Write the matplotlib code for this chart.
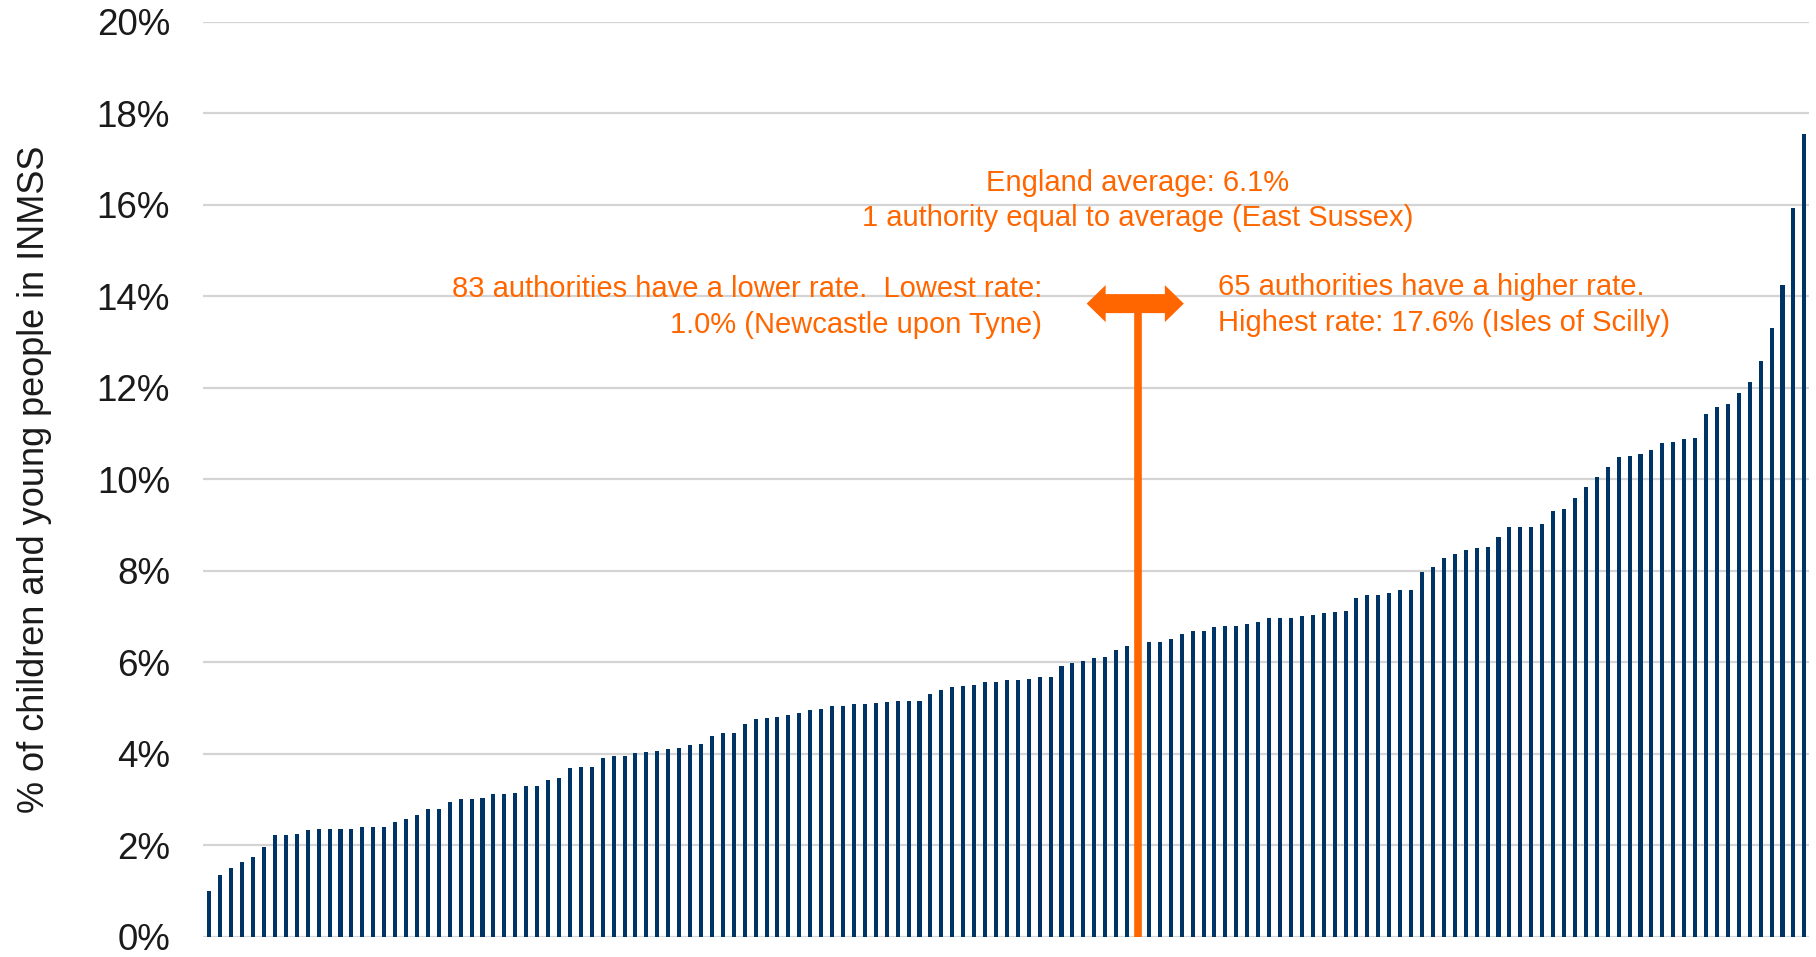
import numpy as np
import matplotlib.pyplot as plt
from matplotlib.patches import Polygon
from matplotlib.transforms import ScaledTranslation
from matplotlib.ticker import FuncFormatter

# % of children and young people in INMSS, one bar per local authority (sorted)
rates = [1.00, 1.34, 1.51, 1.63, 1.74, 1.97, 2.22, 2.22, 2.25, 2.33, 2.36, 2.36, 2.36, 2.36, 2.39, 2.39,
         2.39, 2.50, 2.58, 2.66, 2.80, 2.80, 2.95, 3.00, 3.00, 3.03, 3.11, 3.11, 3.14, 3.29, 3.29, 3.43,
         3.48, 3.68, 3.71, 3.71, 3.90, 3.96,
         3.96, 4.01, 4.04, 4.07, 4.10, 4.13, 4.18, 4.21, 4.38, 4.46, 4.46, 4.64, 4.75, 4.78, 4.81, 4.84,
         4.89, 4.95, 4.97, 5.05, 5.05, 5.08, 5.08, 5.11, 5.14, 5.16, 5.16, 5.16, 5.30, 5.40, 5.45, 5.48,
         5.51, 5.57, 5.57, 5.62, 5.62,
         5.64, 5.67, 5.67, 5.92, 5.98, 6.03, 6.09, 6.12, 6.26, 6.35,
         6.10,
         6.45, 6.45, 6.51, 6.62, 6.68, 6.68, 6.76, 6.79, 6.79, 6.84, 6.87, 6.96, 6.96, 6.96, 7.01, 7.04,
         7.07, 7.10, 7.13, 7.41, 7.47, 7.47, 7.52, 7.58, 7.58,
         7.97, 8.09, 8.27, 8.36, 8.45, 8.50, 8.52, 8.73, 8.95, 8.95, 8.96, 9.03, 9.31, 9.34, 9.59, 9.84,
         10.04, 10.27, 10.49, 10.50, 10.56, 10.65, 10.79, 10.82, 10.88, 10.91, 11.42, 11.58, 11.65, 11.89,
         12.12, 12.59, 13.31, 14.25, 15.93, 17.55]
avg_pos = 85          # slot of East Sussex (England average)
arrow_level = 13.84   # height of the marker arrow
y_ticks = [0, 2, 4, 6, 8, 10, 12, 14, 16, 18, 20]

NAVY = '#003366'; ORANGE = '#FF6600'
plt.rcParams['font.family'] = ['Liberation Sans', 'DejaVu Sans']

fig = plt.figure(figsize=(18.16, 9.57), dpi=100)
ax = fig.add_axes([0.112, 0.0212, 0.884, 0.956])
x = np.arange(len(rates))
ax.bar(x, rates, width=0.37, color=NAVY, zorder=2)

ax.set_ylim(0, 20)
ax.set_xlim(-0.55, len(rates) - 0.6)
ax.set_yticks(y_ticks)
ax.yaxis.set_major_formatter(FuncFormatter(lambda v, p: f'{v:.0f}%'))
ax.set_xticks([])
ax.tick_params(axis='y', length=0, pad=24, labelsize=26.5, labelcolor='#1a1a1a')
ax.grid(axis='y', color='#d4d4d4', lw=1.6, zorder=0)
for s in ax.spines.values(): s.set_visible(False)
ax.set_ylabel('% of children and young people in INMSS', fontsize=26, color='#1a1a1a')
ax.yaxis.set_label_coords(-0.094, 0.5)

# average marker: vertical stem plus block double arrow (shape in inches around its centre)
ax.plot([avg_pos, avg_pos], [0, arrow_level], color=ORANGE, lw=5.5, solid_capstyle='butt', zorder=3)
tip, back, shaft, head = 0.486, 0.296, 0.095, 0.185
shape = [(-tip, 0), (-back, head), (-back, shaft), (back, shaft), (back, head), (tip, 0),
         (back, -head), (back, -shaft), (-back, -shaft), (-back, -head)]
trans = fig.dpi_scale_trans + ScaledTranslation(avg_pos - 0.25, arrow_level, ax.transData)
ax.add_patch(Polygon(shape, closed=True, transform=trans, facecolor=ORANGE, edgecolor='none', zorder=4))

tk = dict(color=ORANGE, fontsize=21)
ax.text(avg_pos, 16.48, 'England average: 6.1%', ha='center', va='center', **tk)
ax.text(avg_pos, 15.72, '1 authority equal to average (East Sussex)', ha='center', va='center', **tk)
ax.text(avg_pos - 8.8, 14.17, '83 authorities have a lower rate.  Lowest rate:', ha='right', va='center', **tk)
ax.text(avg_pos - 8.8, 13.38, '1.0% (Newcastle upon Tyne)', ha='right', va='center', **tk)
ax.text(avg_pos + 7.3, 14.2, '65 authorities have a higher rate.', ha='left', va='center', **tk)
ax.text(avg_pos + 7.3, 13.41, 'Highest rate: 17.6% (Isles of Scilly)', ha='left', va='center', **tk)

fig.savefig('out.png', dpi=100)
